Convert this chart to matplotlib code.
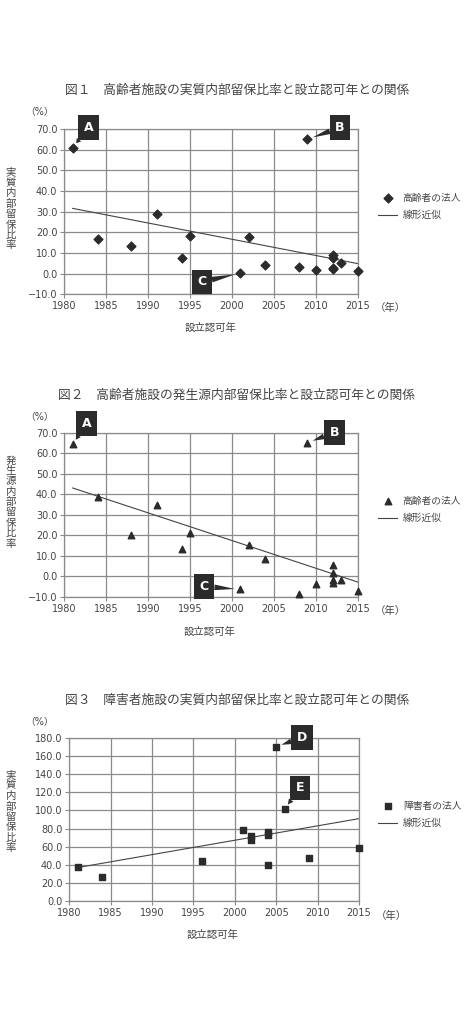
import numpy as np
import matplotlib
matplotlib.use('Agg')
import matplotlib.pyplot as plt

plt.rcParams['font.family'] = ['DejaVu Sans', 'Noto Sans CJK JP']

# Figure 1: elderly facilities, real internal reserve ratio
years1 = [1981, 1984, 1988, 1991, 1994, 1995, 2001, 2002, 2004, 2008, 2009,
          2010, 2012, 2012, 2012, 2012, 2013, 2015]
vals1 = [61.0, 17.0, 13.5, 28.7, 7.5, 18.3, 0.2, 17.6, 4.4, 3.3, 65.0,
         1.6, 9.0, 7.5, 2.8, 2.3, 5.0, 1.2]

# Figure 2: elderly facilities, source-based internal reserve ratio
years2 = [1981, 1984, 1988, 1991, 1994, 1995, 2001, 2002, 2004, 2008, 2009,
          2010, 2012, 2012, 2012, 2012, 2013, 2015]
vals2 = [64.3, 38.5, 20.2, 34.7, 13.4, 21.0, -6.3, 15.4, 8.6, -8.6, 65.1,
         -3.7, 5.8, 1.9, -1.8, -3.1, -1.5, -7.0]

# Figure 3: disability facilities, real internal reserve ratio
years3 = [1981, 1984, 1996, 2001, 2002, 2002, 2004, 2004, 2004, 2005, 2006,
          2009, 2015]
vals3 = [38.0, 26.6, 44.0, 78.3, 72.0, 67.3, 76.5, 72.4, 39.9, 170.4, 101.6,
         48.0, 58.0]

titles = ['図１　高齢者施設の実質内部留保比率と設立認可年との関係',
          '図２　高齢者施設の発生源内部留保比率と設立認可年との関係',
          '図３　障害者施設の実質内部留保比率と設立認可年との関係']
ylabels = ['実質内部留保比率', '発生源内部留保比率', '実質内部留保比率']
legend_names = ['高齢者の法人', '高齢者の法人', '障害者の法人']
x_ticks = [1980, 1985, 1990, 1995, 2000, 2005, 2010, 2015]

W, H = 474, 1015
TXT = '#444444'
DARK = '#2b2b2b'
JP = ['Noto Sans CJK JP']

fig = plt.figure(figsize=(W / 100, H / 100), dpi=100)


def fx(px):
    return px / W


def fy(py):
    return 1 - py / H


def callout(ax, letter, xy, xytext):
    ax.annotate(letter, xy=xy, xytext=xytext, textcoords='data',
                ha='center', va='center', color='white', fontsize=9,
                fontweight='bold', annotation_clip=False,
                bbox=dict(boxstyle='square,pad=0.45', fc=DARK, ec='none'),
                arrowprops=dict(arrowstyle='wedge,tail_width=0.45',
                                fc=DARK, ec='none', shrinkA=0, shrinkB=4))


def panel(rect, years, vals, ylim, ystep, marker, msize, i, layout):
    ax = fig.add_axes(rect)
    ax.scatter(years, vals, marker=marker, s=msize, color=DARK, zorder=3,
               label=legend_names[i], clip_on=False)
    k, b = np.polyfit(years, vals, 1)
    xs = np.array([min(years), max(years)])
    ax.plot(xs, k * xs + b, color='#444444', lw=0.8, zorder=2,
            label='線形近似')
    ax.set_xlim(1980, 2015)
    ax.set_ylim(*ylim)
    ax.set_xticks(x_ticks)
    yt = np.arange(ylim[0], ylim[1] + 0.1, ystep)
    ax.set_yticks(yt)
    ax.set_yticklabels([f'{v:.1f}'.replace('-', '−') for v in yt])
    ax.grid(True, color='#8a8a8a', lw=0.9)
    ax.set_axisbelow(True)
    for s in ax.spines.values():
        s.set_color('#8a8a8a')
        s.set_linewidth(0.9)
    ax.tick_params(colors='#8a8a8a', labelcolor=TXT, labelsize=7,
                   length=3, width=0.8, pad=2)

    ty, pct, ylab_y, xlab, year_x, leg_y = layout
    fig.text(fx(237), fy(ty), titles[i], ha='center', va='center',
             fontsize=9.2, color=TXT, family=JP)
    fig.text(fx(40), fy(pct), '（%）', ha='center', va='center',
             fontsize=7, color=TXT)
    fig.text(fx(11), fy(ylab_y), '\n'.join(ylabels[i]), ha='center',
             va='center', fontsize=7.5, color=TXT, linespacing=1.05,
             family=JP)
    fig.text(fx(xlab[0]), fy(xlab[1]), '設立認可年', ha='center',
             va='center', fontsize=7.5, color=TXT, family=JP)
    fig.text(fx(year_x[0]), fy(year_x[1]), '（年）', ha='center',
             va='center', fontsize=7.5, color=TXT, family=JP)
    ax.legend(loc='center left', bbox_to_anchor=(fx(378), fy(leg_y)),
              bbox_transform=fig.transFigure, frameon=False, borderpad=0,
              borderaxespad=0, handlelength=2.0, handletextpad=0.55,
              labelspacing=0.75, labelcolor=TXT,
              prop={'family': JP, 'size': 7})
    return ax


ax1 = panel([fx(64.3), fy(294.3), fx(357.7) - fx(64.3), (294.3 - 129) / H],
            years1, vals1, (-10, 70), 10, 'D', 20, 0,
            (90.7, 112, 209, (211, 328), (390, 308), 206.5))
callout(ax1, 'A', (years1[0], vals1[0]), (1982.9, 70.7))
callout(ax1, 'B', (years1[10], vals1[10]), (2012.9, 70.7))
callout(ax1, 'C', (years1[6], vals1[6]), (1996.4, -4.0))

ax2 = panel([fx(64.3), fy(597), fx(357.7) - fx(64.3), (597 - 432.7) / H],
            years2, vals2, (-10, 70), 10, '^', 22, 1,
            (395, 416.7, 502, (210, 632), (390, 611), 509.5))
callout(ax2, 'A', (years2[0], vals2[0]), (1982.65, 74.5))
callout(ax2, 'B', (years2[10], vals2[10]), (2012.2, 70.1))
callout(ax2, 'C', (years2[6], vals2[6]), (1996.7, -4.9))

ax3 = panel([fx(69.3), fy(901), fx(359) - fx(69.3), (901 - 738) / H],
            years3, vals3, (0, 180), 20, 's', 22, 2,
            (700, 721.7, 811.7, (213, 935), (391, 916), 814.5))
callout(ax3, 'D', (years3[9], vals3[9]), (2008.1, 180.5))
callout(ax3, 'E', (years3[10], vals3[10]), (2007.9, 124.8))

fig.savefig('out.png', dpi=100, facecolor='white')
